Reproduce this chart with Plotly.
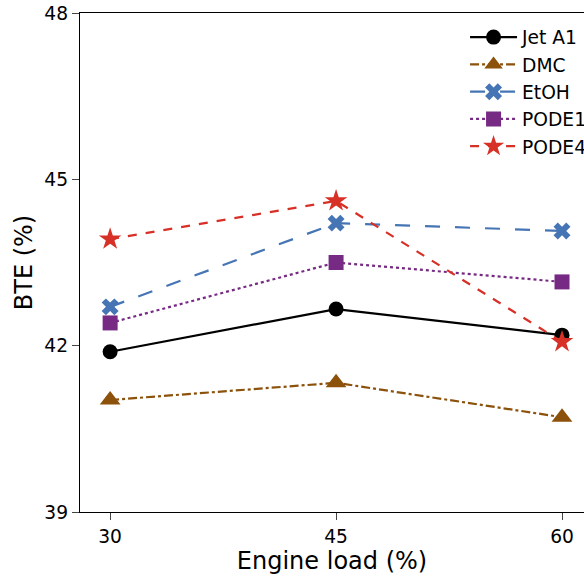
import plotly.graph_objects as go

loads = [30, 45, 60]
jet_a1 = [41.89, 42.66, 42.19]
dmc = [41.02, 41.33, 40.71]
etoh = [42.70, 44.21, 44.07]
pode1 = [42.41, 43.50, 43.15]
pode4 = [43.92, 44.61, 42.07]

series = [
    ("Jet A1", jet_a1, "#000000", "solid", "circle", 15),
    ("DMC", dmc, "#8c510a", "dashdot", "triangle-up", 18),
    ("EtOH", etoh, "#4575b4", "longdash", "x", 15),
    ("PODE1", pode1, "#762a83", "dot", "square", 15),
    ("PODE4", pode4, "#d73027", "dash", "star", 17),
]

fig = go.Figure()
for name, vals, color, dash, sym, msize in series:
    fig.add_trace(go.Scatter(
        x=loads, y=vals, name=name, mode="lines+markers",
        line=dict(color=color, width=2.2, dash=dash),
        marker=dict(symbol=sym, size=msize, color=color),
    ))

font = "DejaVu Sans, sans-serif"
fig.update_layout(
    width=584, height=576,
    margin=dict(l=80, r=0, t=13, b=64, autoexpand=False),
    paper_bgcolor="white", plot_bgcolor="white",
    font=dict(family=font, size=18.67, color="black"),
    showlegend=True,
    legend=dict(x=0.764, y=0.989, xanchor="left", yanchor="top",
                bgcolor="rgba(0,0,0,0)", font=dict(size=18.67),
                tracegroupgap=0, itemwidth=47),
    xaxis=dict(range=[28.0, 61.46], tickvals=loads, ticks="outside", ticklen=7,
               tickwidth=1.3, showline=True, linecolor="black", linewidth=1.3,
               mirror=True, showgrid=False, zeroline=False,
               title=dict(text="Engine load (%)", font=dict(size=24), standoff=6),
               tickfont=dict(size=18.67)),
    yaxis=dict(range=[39, 48], tickvals=[39, 42, 45, 48], ticks="outside", ticklen=7,
               tickwidth=1.3, showline=True, linecolor="black", linewidth=1.3,
               showgrid=False, zeroline=False,
               title=dict(text="BTE (%)", font=dict(size=24), standoff=4),
               tickfont=dict(size=18.67)),
)

fig.write_html("out.html")
